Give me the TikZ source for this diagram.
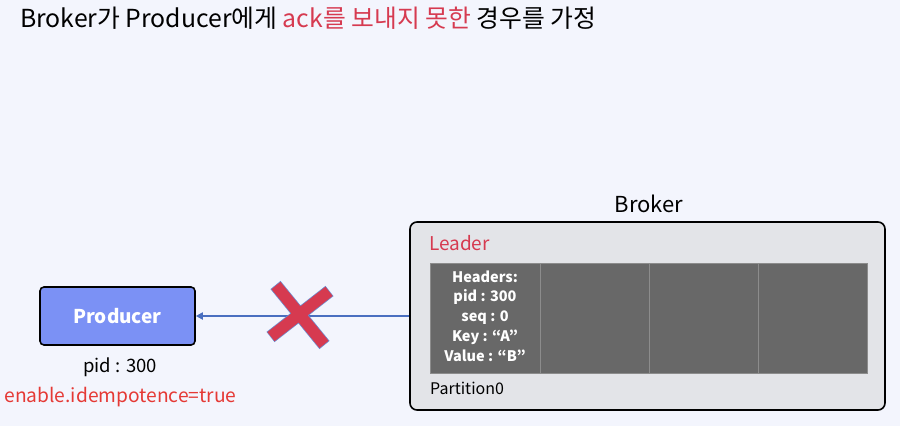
\documentclass[tikz,border=0pt]{standalone}
\usepackage{fontspec}
\setmainfont{Noto Sans CJK KR}
\usetikzlibrary{arrows.meta}
\definecolor{bg}{HTML}{F3F5FD}
\definecolor{brokerfill}{HTML}{E3E4E8}
\definecolor{cellfill}{HTML}{686868}
\definecolor{celldiv}{HTML}{8C8C8C}
\definecolor{prodfill}{HTML}{7B91F5}
\definecolor{leaderred}{HTML}{D63A50}
\definecolor{confred}{HTML}{E53935}
\definecolor{arrowblue}{HTML}{4A6FC0}
\tikzset{
  lbl/.style={inner sep=0pt, font=#1},
  boxline/.style={draw=black, line width=1.6pt},
}
\begin{document}
\begin{tikzpicture}[x=1pt,y=-1pt]
\useasboundingbox (0,0) rectangle (900,426);
\fill[bg] (0,0) rectangle (900,426);
% title
\node[lbl={\fontsize{24.8}{28}\selectfont}, anchor=west] (title) at (20,18)
  {Broker가 Producer에게 \textcolor{leaderred}{ack를 보내지 못한} 경우를 가정};
% broker
\node[lbl={\fontsize{22}{26}\selectfont}] (brokerlbl) at (649,204) {Broker};
\node[boxline, fill=brokerfill, rounded corners=7pt, minimum width=475pt, minimum height=188pt, inner sep=0pt] (broker) at (647.5,316) {};
\node[lbl={\fontsize{19}{22}\selectfont}, text=leaderred, anchor=west] (leader) at (429,243) {Leader};
\node[fill=cellfill, draw=celldiv, line width=0.8pt, minimum width=437pt, minimum height=110pt, inner sep=0pt] (cells) at (648.5,318) {};
\draw[celldiv, line width=1pt] (540,263) -- (540,373) (649,263) -- (649,373) (758,263) -- (758,373);
\node[lbl={\fontsize{14.5}{19.8}\selectfont\bfseries}, text=white, align=center] (hdr) at (485,316)
  {Headers:\\pid : 300\\seq : 0\\Key : “A”\\Value : “B”};
\node[lbl={\fontsize{16}{19}\selectfont}, anchor=west] (part) at (430,388) {Partition0};
% producer
\node[boxline, fill=prodfill, rounded corners=4pt, minimum width=155pt, minimum height=58pt, inner sep=0pt,
  text=white, font=\fontsize{19}{22}\selectfont\bfseries] (prod) at (117.5,316) {Producer};
\node[lbl={\fontsize{18.5}{22}\selectfont}] (pid) at (120,367) {pid : 300};
\node[lbl={\fontsize{19.2}{22}\selectfont}, text=confred] (conf) at (120.5,397) {enable.idempotence=true};
% arrow
\draw[arrowblue, line width=1.8pt, -{Triangle[length=7pt,width=7pt]}] (broker.west) -- (prod.east);
% red X
\coordinate (xc) at (300,315);
\begin{scope}[line cap=butt]
\draw[arrowblue!80, line width=13pt] (275.5,285) -- (324.5,345) (329.5,291) -- (270.5,337);
\draw[leaderred, line width=11.5pt] (276,285.6) -- (324,344.4) (329,291.4) -- (271,336.6);
\end{scope}
\end{tikzpicture}
\end{document}
